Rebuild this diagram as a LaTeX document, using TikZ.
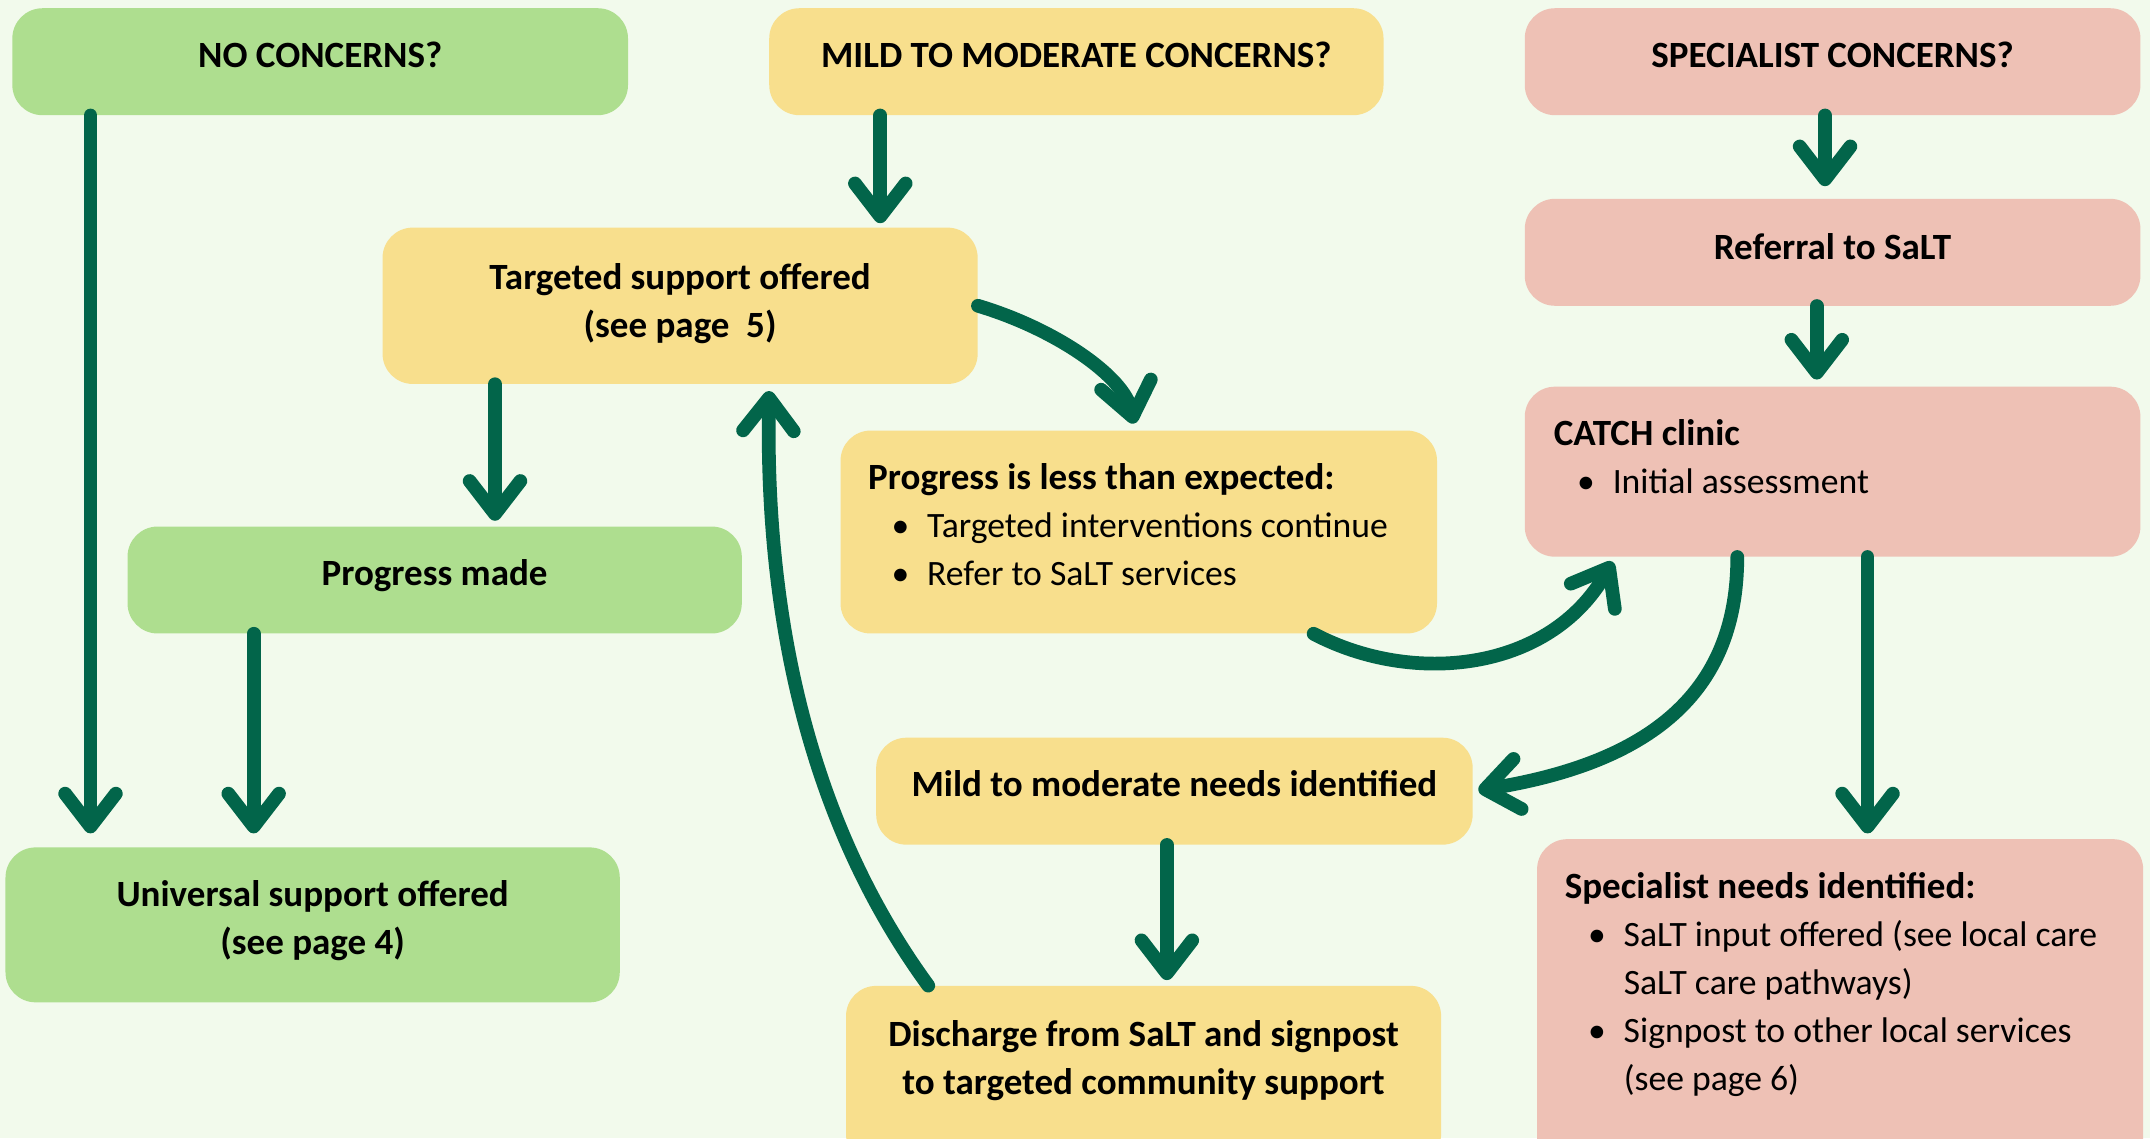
\documentclass[tikz,border=0pt]{standalone}
\usepackage{fontspec}
\setmainfont{Carlito}
\usetikzlibrary{arrows.meta}
\definecolor{bgc}{HTML}{F2FAEC}
\definecolor{greenc}{HTML}{AEDE8F}
\definecolor{yellowc}{HTML}{F8DF8D}
\definecolor{pinkc}{HTML}{EEC1B5}
\definecolor{arrowc}{HTML}{02654A}
\newcommand{\bul}[1]{\hspace*{17pt}\makebox[26pt][l]{\textbullet}#1}
\newcommand{\cont}[1]{\hspace*{43pt}#1}
\newcommand{\bt}[1]{{\fontsize{27}{35}\selectfont\bfseries #1}}
\begin{document}
\begin{tikzpicture}[x=1pt,y=-1pt,
  box/.style={rounded corners=22pt, inner sep=0pt, draw=none},
  gbox/.style={box, fill=greenc},
  ybox/.style={box, fill=yellowc},
  pbox/.style={box, fill=pinkc},
  txt/.style={font=\fontsize{26}{35}\selectfont, inner sep=0pt},
  btxt/.style={txt, font=\fontsize{27}{35}\selectfont\bfseries},
  arr/.style={draw=arrowc, line width=10pt, line cap=round,
    -{Straight Barb[length=24pt,width=37pt,round]}}
]
\clip (0,0) rectangle (1568,830);
\useasboundingbox (0,0) rectangle (1568,830);
\fill[bgc] (0,0) rectangle (1568,830);

% boxes
\node[gbox, minimum width=449pt, minimum height=78pt] (nc) at (233.5,45) {};
\node[ybox, minimum width=448pt, minimum height=78pt] (mm) at (785,45) {};
\node[pbox, minimum width=449pt, minimum height=78pt] (sc) at (1336.5,45) {};
\node[ybox, minimum width=434pt, minimum height=114pt] (ts) at (496,223) {};
\node[pbox, minimum width=449pt, minimum height=78pt] (ref) at (1336.5,184) {};
\node[ybox, minimum width=435pt, minimum height=148pt] (pl) at (830.5,388) {};
\node[pbox, minimum width=449pt, minimum height=124pt] (catch) at (1336.5,344) {};
\node[gbox, minimum width=448pt, minimum height=78pt] (pm) at (317,423) {};
\node[ybox, minimum width=435pt, minimum height=78pt] (mmn) at (856.5,577) {};
\node[gbox, minimum width=448pt, minimum height=113pt] (us) at (228,674.5) {};
\node[ybox, minimum width=434pt, minimum height=130pt] (dis) at (834,784) {};
\node[pbox, minimum width=442pt, minimum height=240pt] (sn) at (1342,732) {};

% texts
\node[btxt, anchor=base] (nct) at (233.5,49) {NO CONCERNS?};
\node[btxt, anchor=base] (mmt) at (785,49) {MILD TO MODERATE CONCERNS?};
\node[btxt, anchor=base] (sct) at (1336.5,49) {SPECIALIST CONCERNS?};
\node[btxt, anchor=base] (tst) at (496,211) {\begin{tabular}[t]{@{}c@{}}Targeted support offered\\(see page\ \ 5)\end{tabular}};
\node[btxt, anchor=base] (reft) at (1336.5,189) {Referral to SaLT};
\node[txt, anchor=base west] (plt) at (633,357) {\begin{tabular}[t]{@{}l@{}}\bt{Progress is less than expected:}\\\bul{Targeted interventions continue}\\\bul{Refer to SaLT services}\end{tabular}};
\node[txt, anchor=base west] (catcht) at (1133,325) {\begin{tabular}[t]{@{}l@{}}\bt{CATCH clinic}\\\bul{Initial assessment}\end{tabular}};
\node[btxt, anchor=base] (pmt) at (317,427) {Progress made};
\node[btxt, anchor=base] (mmnt) at (856.5,581) {Mild to moderate needs identified};
\node[btxt, anchor=base] (ust) at (228,661) {\begin{tabular}[t]{@{}c@{}}Universal support offered\\(see page 4)\end{tabular}};
\node[btxt, anchor=base] (dist) at (834,763) {\begin{tabular}[t]{@{}c@{}}Discharge from SaLT and signpost\\to targeted community support\end{tabular}};
\node[txt, anchor=base west] (snt) at (1141,655) {\begin{tabular}[t]{@{}l@{}}\bt{Specialist needs identified:}\\\bul{SaLT input offered (see local care}\\\cont{SaLT care pathways)}\\\bul{Signpost to other local services}\\\cont{(see page 6)}\end{tabular}};

% straight connectors
\draw[arr, shorten >=10pt] ([xshift=-167.5pt]nc.south) -- ([xshift=-162pt]us.north);
\draw[arr, shorten >=3pt] ([xshift=-143pt]mm.south) -- ([xshift=146pt]ts.north);
\draw[arr, shorten >=9pt] ([xshift=-5.5pt]sc.south) -- ([xshift=-5.5pt]ref.north);
\draw[arr, shorten >=5pt] ([xshift=-11.5pt]ref.south) -- ([xshift=-11.5pt]catch.north);
\draw[arr, shorten >=4pt] ([xshift=-135pt]ts.south) -- ([xshift=44pt]pm.north);
\draw[arr, shorten >=10pt] ([xshift=-132pt]pm.south) -- ([xshift=-43pt]us.north);
\draw[arr, shorten >=4pt] ([xshift=25.5pt]catch.south) -- ([xshift=20pt]sn.north);
\draw[arr, shorten >=4pt] ([xshift=-5.5pt]mmn.south) -- ([xshift=17pt]dis.north);

% curved connectors
\draw[arr, shorten >=5pt] (ts.east) .. controls +(57,17) and +(-8,-39) .. ([xshift=-2.5pt]pl.north);
\draw[arr, shorten >=4pt] ([xshift=127.5pt]pl.south) .. controls +(72,38) and +(-48,84) .. ([xshift=-158.5pt]catch.south);
\draw[arr, shorten >=4pt] ([xshift=-69.5pt]catch.south) .. controls +(0,94) and +(136,-22) .. (mmn.east);
\draw[arr, shorten >=5pt] ([xshift=-157pt]dis.north) .. controls +(-87,-119) and +(-3,170) .. ([xshift=65pt]ts.south);
\end{tikzpicture}
\end{document}
